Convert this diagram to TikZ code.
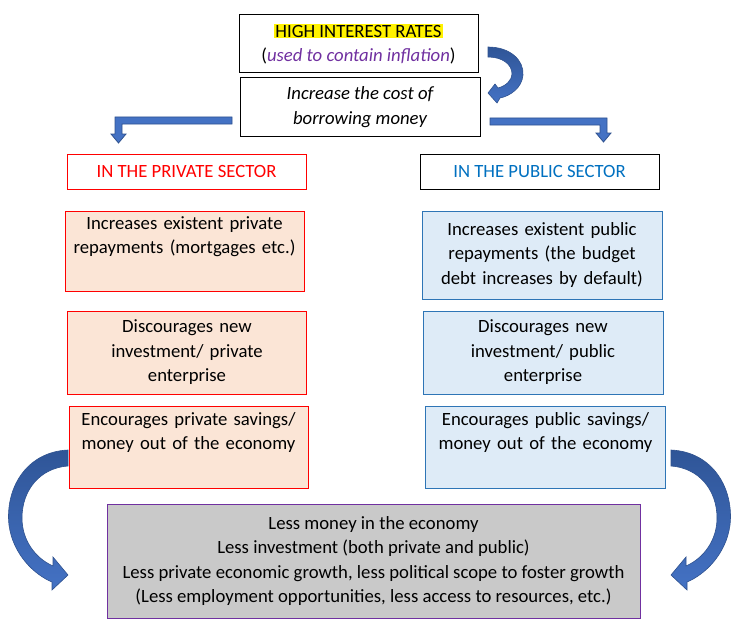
\documentclass[tikz,border=0pt]{standalone}
\usepackage{fontspec}
\setmainfont{Carlito}
\usepackage{xcolor}
\usetikzlibrary{shapes,positioning}

\definecolor{privRed}{RGB}{255,0,0}
\definecolor{privFill}{RGB}{251,229,214}
\definecolor{pubBlue}{RGB}{46,117,182}
\definecolor{pubFill}{RGB}{222,235,247}
\definecolor{headBlue}{RGB}{0,112,192}
\definecolor{titlePurple}{RGB}{112,48,160}
\definecolor{sumGray}{RGB}{201,201,201}
\definecolor{arrowBlue}{RGB}{68,114,196}
\definecolor{arrowDark}{RGB}{47,85,151}
\definecolor{arrowEdge}{RGB}{47,82,143}
\setlength{\fboxsep}{1pt}

\begin{document}
\begin{tikzpicture}[x=1pt,y=-1pt,
  box/.style={draw,line width=1pt,inner sep=0pt,align=center,font=\fontsize{18.7}{24.5}\selectfont},
  privbox/.style={box,draw=privRed,fill=privFill,minimum width=239pt,text width=233pt},
  pubbox/.style={box,draw=pubBlue,fill=pubFill,minimum width=240pt,text width=234pt},
  bentarrow/.style={draw=arrowEdge,line width=0.8pt,fill=arrowBlue},
  bigarrow/.style={draw=arrowEdge,line width=0.6pt,top color=arrowDark,bottom color=arrowBlue}]
\useasboundingbox (0,0) rectangle (745,626);

\node[box,minimum width=239pt,minimum height=58pt] at (358.5,44) (topA) {\colorbox{yellow}{HIGH INTEREST RATES}\\(\textcolor{titlePurple}{\itshape used to contain inflation})};
\node[box,minimum width=240pt,minimum height=58pt,font=\fontsize{18.7}{24.5}\selectfont\itshape] at (360,107) (topB) {Increase the cost of\\borrowing money};

\node[box,draw=privRed,text=privRed,minimum width=239pt,minimum height=35pt] at (186.5,171.5) (privHead) {IN THE PRIVATE SECTOR};
\node[box,text=headBlue,minimum width=239pt,minimum height=35pt] at (539.5,171.5) (pubHead) {IN THE PUBLIC SECTOR};

\node[privbox,minimum height=80pt] at (184.5,251) (privA) {Increases existent private\\repayments (mortgages etc.)\\ \strut};
\node[pubbox,minimum height=88pt] at (542,255) (pubA) {Increases existent public\\repayments (the budget\\debt increases by default)};

\node[privbox,minimum height=83pt] at (187,352.5) (privB) {Discourages new\\investment/ private\\enterprise};
\node[pubbox,minimum height=83pt] at (543,352.5) (pubB) {Discourages new\\investment/ public\\enterprise};

\node[privbox,minimum height=82pt] at (188.5,447) (privC) {Encourages private savings/\\money out of the economy\\ \strut};
\node[pubbox,minimum height=82pt] at (545.5,447) (pubC) {Encourages public savings/\\money out of the economy\\ \strut};

\node[box,draw=titlePurple,fill=sumGray,minimum width=533pt,minimum height=114pt] at (373.5,561) (bottomA) {Less money in the economy\\Less investment (both private and public)\\Less private economic growth, less political scope to foster growth\\(Less employment opportunities, less access to resources, etc.)};

% turn from topA down to topB
\draw[bigarrow] (488,47) .. controls (510,47) and (524,60) .. (523,75) .. controls (522,88) and (510,96) .. (500,98) -- (497,103) -- (488,93) -- (495,84) -- (498,88) .. controls (506,86) and (512,80) .. (512,74) .. controls (512,64) and (502,57) .. (488,57) -- cycle;

% split to the two sectors
\draw[bentarrow] (232,117) -- (115,117) -- (115,134) -- (111,134) -- (118.5,143) -- (126,134) -- (122,134) -- (122,124) -- (232,124) -- cycle;
\draw[bentarrow] (490,118) -- (607,118) -- (607,133) -- (611,133) -- (603.5,142) -- (596,133) -- (600,133) -- (600,125) -- (490,125) -- cycle;

% savings down to the summary
\draw[bigarrow] (68,450) .. controls (25,452) and (5,490) .. (9,525) .. controls (13,555) and (35,575) .. (52,582) -- (52,590) -- (68,575) -- (53,557) -- (53,566) .. controls (35,558) and (22,540) .. (22,518) .. controls (22,490) and (40,468) .. (68,466) -- cycle;
\begin{scope}[xshift=739pt,xscale=-1]
\draw[bigarrow] (68,450) .. controls (25,452) and (5,490) .. (9,525) .. controls (13,555) and (35,575) .. (52,582) -- (52,590) -- (68,575) -- (53,557) -- (53,566) .. controls (35,558) and (22,540) .. (22,518) .. controls (22,490) and (40,468) .. (68,466) -- cycle;
\end{scope}

\end{tikzpicture}
\end{document}
